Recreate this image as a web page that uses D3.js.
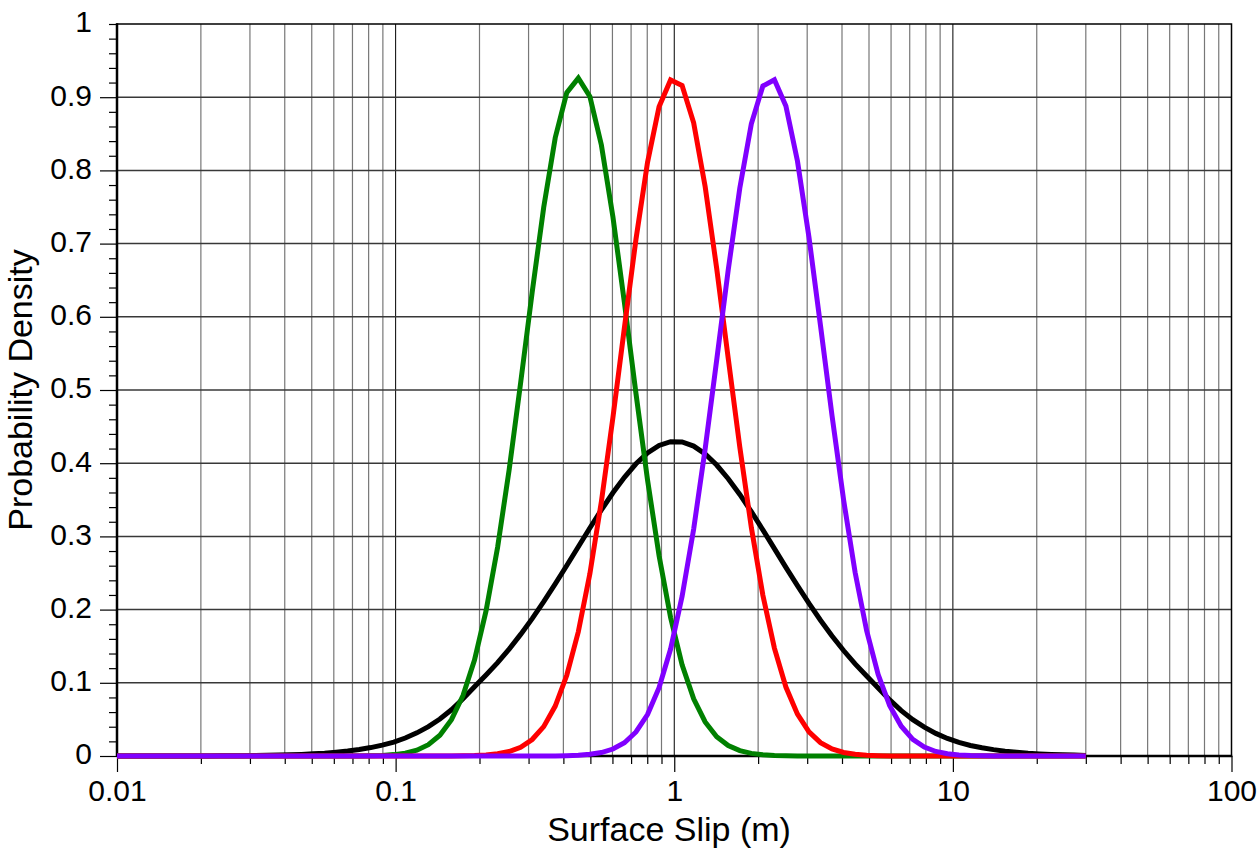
<!DOCTYPE html>
<html>
<head>
<meta charset="utf-8">
<script src="https://cdn.jsdelivr.net/npm/d3@7"></script>
<style>
  html, body { margin: 0; background: #fff; }
  svg { display: block; font-family: "Liberation Sans", Arial, Helvetica, sans-serif; }
</style>
</head>
<body>
<svg id="chart" width="1259" height="850"></svg>
<script>
// Surface slip sample points (m), geometric steps of 1.1 from 0.01 to 30
const slip = [
  0.01, 0.011, 0.0121, 0.01331, 0.01464, 0.01611, 0.01772, 0.01949, 0.02144, 0.02358,
  0.02594, 0.02853, 0.03138, 0.03452, 0.03797, 0.04177, 0.04595, 0.05054, 0.0556, 0.06116,
  0.06728, 0.074, 0.0814, 0.08954, 0.0985, 0.1083, 0.1192, 0.1311, 0.1442, 0.1586,
  0.1745, 0.1919, 0.2111, 0.2323, 0.2555, 0.281, 0.3091, 0.34, 0.374, 0.4114,
  0.4526, 0.4979, 0.5476, 0.6024, 0.6626, 0.7289, 0.8018, 0.882, 0.9702, 1.067,
  1.174, 1.291, 1.42, 1.562, 1.719, 1.891, 2.08, 2.288, 2.516, 2.768,
  3.045, 3.349, 3.684, 4.053, 4.458, 4.904, 5.394, 5.933, 6.527, 7.18,
  7.897, 8.687, 9.556, 10.51, 11.56, 12.72, 13.99, 15.39, 16.93, 18.62,
  20.48, 22.53, 24.79, 27.26, 29.99
];

// Probability density of each distribution at the slip points
const densityBlack = [
  0, 0, 0, 0, 0, 0, 0, 0, 0.0001, 0.0002,
  0.0003, 0.0004, 0.0006, 0.0009, 0.0012, 0.0016, 0.0022, 0.003, 0.0039, 0.0052,
  0.0068, 0.0089, 0.0115, 0.0148, 0.019, 0.0246, 0.0316, 0.0402, 0.0506, 0.0632,
  0.0781, 0.0946, 0.1108, 0.1275, 0.146, 0.1661, 0.1877, 0.2108, 0.2351, 0.2603,
  0.2859, 0.3114, 0.3361, 0.3596, 0.3808, 0.3992, 0.4139, 0.4242, 0.4294, 0.4291,
  0.4234, 0.4126, 0.3975, 0.3788, 0.3573, 0.3337, 0.3088, 0.2833, 0.2577, 0.2327,
  0.2085, 0.1855, 0.164, 0.1441, 0.1258, 0.1093, 0.093, 0.0766, 0.062, 0.0496,
  0.0394, 0.0309, 0.024, 0.0185, 0.0144, 0.0113, 0.0087, 0.0066, 0.0051, 0.0038,
  0.0029, 0.0022, 0.0016, 0.0012, 0.0008
];

const densityGreen = [
  0, 0, 0, 0, 0, 0, 0, 0, 0, 0,
  0, 0, 0, 0, 0, 0, 0, 0, 0, 0,
  0, 0, 0.0004, 0.0008, 0.0019, 0.0039, 0.008, 0.0154, 0.0284, 0.0496,
  0.0827, 0.1312, 0.1982, 0.2852, 0.3908, 0.5099, 0.6336, 0.7496, 0.8446, 0.9062,
  0.926, 0.9009, 0.8347, 0.7366, 0.6189, 0.4951, 0.3773, 0.2737, 0.1892, 0.1245,
  0.078, 0.0465, 0.0264, 0.0143, 0.0074, 0.0036, 0.0017, 0.0008, 0.0003, 0,
  0, 0, 0, 0, 0, 0, 0, 0, 0, 0,
  0, 0, 0, 0, 0, 0, 0, 0, 0, 0,
  0, 0, 0, 0, 0
];

const densityRed = [
  0, 0, 0, 0, 0, 0, 0, 0, 0, 0,
  0, 0, 0, 0, 0, 0, 0, 0, 0, 0,
  0, 0, 0, 0, 0, 0, 0, 0, 0, 0,
  0.0003, 0.0006, 0.0014, 0.003, 0.0061, 0.012, 0.0225, 0.0401, 0.0682, 0.1103,
  0.1697, 0.2489, 0.3476, 0.4624, 0.5855, 0.7062, 0.8109, 0.8868, 0.9235, 0.9159,
  0.865, 0.7778, 0.6662, 0.5433, 0.4219, 0.3121, 0.2197, 0.1474, 0.0942, 0.0572,
  0.0331, 0.0183, 0.0096, 0.0048, 0.0023, 0.001, 0.0004, 0, 0, 0,
  0, 0, 0, 0, 0, 0, 0, 0, 0, 0,
  0, 0, 0, 0, 0
];

const densityPurple = [
  0, 0, 0, 0, 0, 0, 0, 0, 0, 0,
  0, 0, 0, 0, 0, 0, 0, 0, 0, 0,
  0, 0, 0, 0, 0, 0, 0, 0, 0, 0,
  0, 0, 0, 0, 0, 0, 0, 0, 0, 0.0004,
  0.001, 0.0023, 0.0047, 0.0095, 0.0181, 0.0328, 0.0566, 0.0933, 0.1461, 0.2181,
  0.31, 0.4196, 0.5408, 0.6639, 0.7758, 0.8636, 0.9153, 0.9238, 0.8879, 0.8128,
  0.7084, 0.588, 0.4648, 0.3498, 0.2508, 0.1711, 0.1112, 0.0688, 0.0406, 0.0228,
  0.0122, 0.0062, 0.003, 0.0014, 0.0006, 0.0003, 0, 0, 0, 0,
  0, 0, 0, 0, 0
];

const xTickValues = [0.01, 0.1, 1, 10, 100];
const xTickLabels = ["0.01", "0.1", "1", "10", "100"];
const yTickValues = [0, 0.1, 0.2, 0.3, 0.4, 0.5, 0.6, 0.7, 0.8, 0.9, 1];
const yTickLabels = ["0", "0.1", "0.2", "0.3", "0.4", "0.5", "0.6", "0.7", "0.8", "0.9", "1"];

const xTitle = "Surface Slip (m)";
const yTitle = "Probability Density";

const seriesList = [
  { values: densityBlack, color: "#000000" },
  { values: densityGreen, color: "#008000" },
  { values: densityRed, color: "#ff0000" },
  { values: densityPurple, color: "#8000ff" }
];

const svg = d3.select("#chart");
const plotLeft = 117, plotRight = 1231.5, plotTop = 24, plotBottom = 756;

const x = d3.scaleLog().domain([0.01, 100]).range([plotLeft, plotRight]);
const y = d3.scaleLinear().domain([0, 1]).range([plotBottom, plotTop]);

const isDecade = v => Math.abs(Math.log10(v) - Math.round(Math.log10(v))) < 1e-9;
const logTicks = x.ticks();
const minorX = logTicks.filter(v => !isDecade(v));

// vertical grid: grey for 2..9, black for each decade
svg.append("g")
  .selectAll("line")
  .data(logTicks.filter(v => v > 0.01 && v < 100))
  .join("line")
  .attr("x1", d => x(d)).attr("x2", d => x(d))
  .attr("y1", y(0)).attr("y2", y(1))
  .attr("stroke", d => isDecade(d) ? "#000" : "#777777")
  .attr("stroke-width", d => isDecade(d) ? 1 : 1.2);

// horizontal grid every 0.1
svg.append("g")
  .selectAll("line")
  .data(yTickValues.filter(v => v > 0 && v < 1))
  .join("line")
  .attr("x1", plotLeft).attr("x2", plotRight)
  .attr("y1", d => y(d)).attr("y2", d => y(d))
  .attr("stroke", "#383838")
  .attr("stroke-width", 1.5);

// frame
svg.append("rect")
  .attr("x", plotLeft).attr("y", plotTop)
  .attr("width", plotRight - plotLeft).attr("height", plotBottom - plotTop)
  .attr("fill", "none").attr("stroke", "#000").attr("stroke-width", 1.5);

// minor ticks
svg.append("g")
  .attr("transform", `translate(0,${plotBottom})`)
  .call(d3.axisBottom(x).tickValues(minorX).tickSize(8).tickFormat(""))
  .call(g => g.select(".domain").remove());

const yMinor = d3.range(0, 51).map(i => i / 50).filter(v => Math.abs(v * 10 - Math.round(v * 10)) > 1e-6);
svg.append("g")
  .attr("transform", `translate(${plotLeft},0)`)
  .call(d3.axisLeft(y).tickValues(yMinor).tickSize(8).tickFormat(""))
  .call(g => g.select(".domain").remove());

// major axes with labels
svg.append("g")
  .attr("transform", `translate(0,${plotBottom})`)
  .call(d3.axisBottom(x).tickValues(xTickValues).tickSize(16).tickPadding(8)
    .tickFormat((d, i) => xTickLabels[i]))
  .call(g => g.select(".domain").remove())
  .call(g => g.selectAll("text").attr("font-size", 30).attr("fill", "#000")
    .attr("font-family", '"Liberation Sans", Arial, sans-serif'));

svg.append("g")
  .attr("transform", `translate(${plotLeft},0)`)
  .call(d3.axisLeft(y).tickValues(yTickValues).tickSize(17).tickPadding(8)
    .tickFormat((d, i) => yTickLabels[i]))
  .call(g => g.select(".domain").remove())
  .call(g => g.selectAll(".tick").filter(d => d === 1).select("line").attr("x2", -8))
  .call(g => g.selectAll("text").attr("font-size", 30).attr("dy", "0.26em").attr("fill", "#000")
    .attr("font-family", '"Liberation Sans", Arial, sans-serif'));

svg.selectAll(".tick line").attr("stroke", "#000").attr("stroke-width", 1.2);

// heavier left and bottom axis lines
svg.append("line").attr("x1", plotLeft).attr("x2", plotLeft).attr("y1", plotTop - 0.75).attr("y2", plotBottom + 1)
  .attr("stroke", "#000").attr("stroke-width", 2.5);
svg.append("line").attr("x1", plotLeft).attr("x2", plotRight + 0.75).attr("y1", plotBottom).attr("y2", plotBottom)
  .attr("stroke", "#000").attr("stroke-width", 2.5);

// density curves
const line = d3.line()
  .x((d, i) => x(slip[i]))
  .y(d => y(d));

svg.append("g")
  .selectAll("path")
  .data(seriesList)
  .join("path")
  .attr("d", s => line(s.values))
  .attr("fill", "none")
  .attr("stroke", s => s.color)
  .attr("stroke-width", 5)
  .attr("stroke-linejoin", "miter");

// axis titles
svg.append("text")
  .attr("x", 669).attr("y", 841)
  .attr("text-anchor", "middle")
  .attr("font-size", 34)
  .text(xTitle);

svg.append("text")
  .attr("transform", "translate(32,390) rotate(-90)")
  .attr("text-anchor", "middle")
  .attr("font-size", 34)
  .text(yTitle);
</script>
</body>
</html>
